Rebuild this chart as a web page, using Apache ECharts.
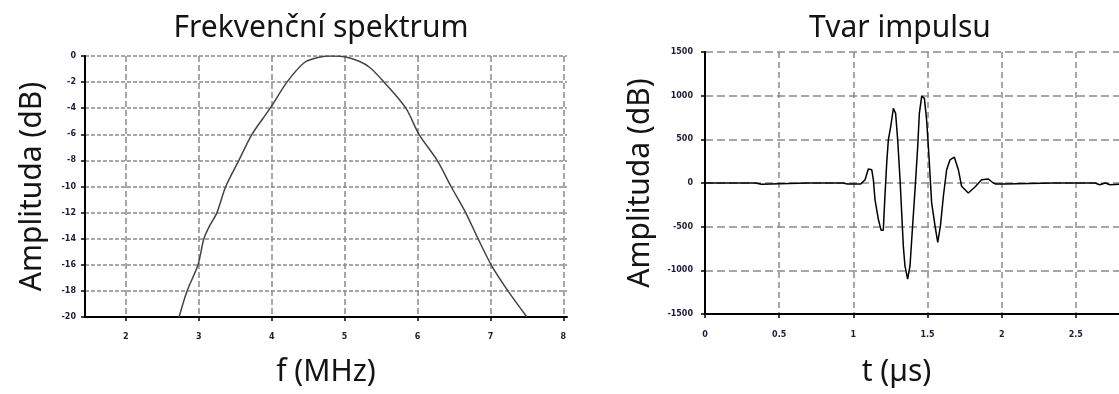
<!DOCTYPE html>
<html>
<head>
<meta charset="utf-8">
<script src="https://cdn.jsdelivr.net/npm/echarts@6/dist/echarts.min.js"></script>
<style>
html,body{margin:0;padding:0;background:#fff;}
#chart{width:1119px;height:394px;}
</style>
</head>
<body>
<div id="chart"></div>
<script>
// ---- Data ----
const specTitle = 'Frekvenční spektrum';
const pulseTitle = 'Tvar impulsu';
const specXName = 'f (MHz)';
const pulseXName = 't (µs)';
const yName = 'Amplituda (dB)';

const specTicks = [2, 3, 4, 5, 6, 7, 8];
const specF  = [2.73, 2.84, 2.99, 3.07, 3.15, 3.25, 3.37, 3.55, 3.73, 3.98, 4.21, 4.45, 4.65, 4.82, 5.0, 5.2, 5.35, 5.54, 5.84, 6.02, 6.27, 6.46, 6.66, 6.83, 7.01, 7.24, 7.50];
const specDb = [-20, -18, -16, -14, -13, -12, -10, -8, -6, -4, -2, -0.5, -0.1, 0, -0.05, -0.4, -0.9, -2, -4, -6, -8, -10, -12, -14, -16, -18, -20];

const pulseT = [0, 0.34, 0.35, 0.38, 0.39, 0.69, 0.70, 0.71, 0.93, 0.94, 0.96, 1.05, 1.06, 1.079, 1.101, 1.124, 1.135, 1.146, 1.169, 1.187, 1.202, 1.213, 1.225, 1.236, 1.252, 1.270, 1.285, 1.299, 1.315, 1.326, 1.337, 1.348, 1.366, 1.382, 1.398, 1.416, 1.434, 1.445, 1.461, 1.479, 1.494, 1.510, 1.528, 1.551, 1.569, 1.587, 1.607, 1.629, 1.652, 1.681, 1.708, 1.730, 1.775, 1.820, 1.865, 1.910, 1.944, 1.96, 2.02, 2.03, 2.35, 2.36, 2.37, 2.63, 2.64, 2.66, 2.67, 2.70, 2.71, 2.73, 2.74, 3.0];
const pulseV = [0, 0, -15, -15, 0, 0, -15, 0, 0, -15, -12, -12, 0, 38, 160, 152, 38, -190, -418, -540, -540, -152, 228, 494, 646, 855, 798, 494, 38, -342, -722, -950, -1100, -950, -532, -76, 418, 798, 995, 969, 722, 304, -228, -494, -680, -494, -152, 152, 266, 296, 152, -38, -114, -46, 38, 46, 0, -12, -12, 0, 0, -15, 0, 0, -20, -20, 0, 0, -20, -20, 0, 0];

// ---- Chart ----
const chart = echarts.init(document.getElementById('chart'));
const FONT = 'Noto Sans';
const BIG = 30;
const textCol = '#141414';
const tickLabel = {fontFamily: 'DejaVu Sans', fontSize: 8, fontWeight: 'bold', color: '#1c1c3a', formatter: v => String(v)};
const axisLine = {show: true, onZero: false, lineStyle: {color: '#000', width: 2}};
const axisTick = {show: true, length: 4, lineStyle: {color: '#000', width: 1.5}};

const option = {
  animation: false,
  backgroundColor: '#fff',
  graphic: [
    {type: 'text', silent: true,
     style: {text: specTitle, x: 321, y: 28, textAlign: 'center', textVerticalAlign: 'middle', font: BIG + 'px "' + FONT + '"', fill: textCol}},
    {type: 'text', silent: true,
     style: {text: pulseTitle, x: 900, y: 28, textAlign: 'center', textVerticalAlign: 'middle', font: BIG + 'px "' + FONT + '"', fill: textCol}}
  ],
  grid: [
    {left: 85, top: 56, width: 482, height: 261, outerBoundsMode: 'none', containLabel: false},
    {left: 705, top: 52, width: 445, height: 262, outerBoundsMode: 'none', containLabel: false}
  ],
  xAxis: [
    {gridIndex: 0, type: 'value', min: 1.44, max: 8.05,
     name: specXName, nameLocation: 'middle', nameGap: 40,
     nameTextStyle: {fontFamily: FONT, fontSize: BIG, color: textCol},
     axisLine: axisLine, axisTick: Object.assign({customValues: specTicks}, axisTick),
     axisLabel: Object.assign({customValues: specTicks, margin: 16}, tickLabel),
     splitLine: {show: true, lineStyle: {color: '#8a8a8a', width: 1.5, type: [6, 3]}}},
    {gridIndex: 1, type: 'value', min: 0, max: 3, interval: 0.5,
     name: pulseXName, nameLocation: 'middle', nameGap: 43,
     nameTextStyle: {fontFamily: FONT, fontSize: BIG, color: textCol, padding: [0, 0, 0, -62]},
     axisLine: axisLine, axisTick: axisTick,
     axisLabel: Object.assign({margin: 17}, tickLabel),
     splitLine: {show: true, lineStyle: {color: '#8a8a8a', width: 1.5, type: [6, 4]}}}
  ],
  yAxis: [
    {gridIndex: 0, type: 'value', min: -20, max: 0, interval: 2,
     name: yName, nameLocation: 'middle', nameGap: 38,
     nameTextStyle: {fontFamily: FONT, fontSize: BIG, color: textCol},
     axisLine: axisLine, axisTick: axisTick,
     axisLabel: Object.assign({margin: 9}, tickLabel),
     splitLine: {show: true, lineStyle: {color: '#8a8a8a', width: 1.5, type: [4, 2]}}},
    {gridIndex: 1, type: 'value', min: -1500, max: 1500, interval: 500,
     name: yName, nameLocation: 'middle', nameGap: 50,
     nameTextStyle: {fontFamily: FONT, fontSize: BIG, color: textCol},
     axisLine: axisLine, axisTick: axisTick,
     axisLabel: Object.assign({margin: 12}, tickLabel),
     splitLine: {show: true, lineStyle: {color: '#8a8a8a', width: 1.5, type: [8, 4]}}}
  ],
  series: [
    {type: 'line', xAxisIndex: 0, yAxisIndex: 0, showSymbol: false, smooth: 0.3,
     lineStyle: {color: '#444', width: 1.5},
     data: specF.map((f, i) => [f, specDb[i]])},
    {type: 'line', xAxisIndex: 1, yAxisIndex: 1, showSymbol: false,
     lineStyle: {color: '#000', width: 1.5},
     data: pulseT.map((t, i) => [t, pulseV[i]])}
  ]
};
chart.setOption(option);
</script>
</body>
</html>
